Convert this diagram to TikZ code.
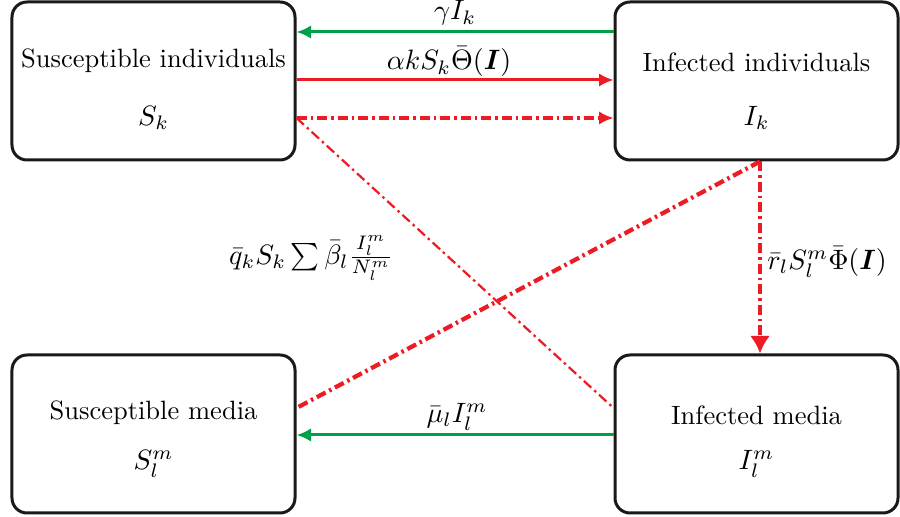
\RequirePackage{fix-cm}
\documentclass[tikz,border=0pt]{standalone}
\usepackage{amsmath}
\usetikzlibrary{arrows.meta,calc}
\definecolor{flowgreen}{RGB}{0,160,75}
\definecolor{flowred}{RGB}{237,28,36}
\begin{document}
\begin{tikzpicture}[x=0.4pt,y=-0.4pt,
  every node/.style={font=\fontsize{10.6}{12.7}\selectfont},
  compbox/.style={draw=black!90,line width=1.2pt,rounded corners=6pt,minimum width=113.2pt,minimum height=63.2pt,inner sep=0pt},
  lbl/.style={inner sep=1pt},
  mlbl/.style={inner sep=1pt,font=\fontsize{11.2}{13.4}\selectfont},
  greenflow/.style={draw=flowgreen,line width=1.2pt,-{Latex[length=5.8pt,width=5.4pt]}},
  redflow/.style={draw=flowred,line width=1.2pt,-{Latex[length=5.8pt,width=5.4pt]}},
  dd/.style={dash pattern=on 4pt off 1.6pt on 1pt off 1.6pt},
  ]
\useasboundingbox (0,0) rectangle (900,517);
\node[compbox] (tl) at (153.5,81) {};
\node[compbox] (tr) at (756.5,81) {};
\node[compbox] (bl) at (153.5,434) {};
\node[compbox] (br) at (756.5,434) {};
\node[lbl] (tlt) at (153.5,61) {Susceptible individuals};
\node[mlbl] (tlm) at (153.5,118) {$S_k$};
\node[lbl] (trt) at (756.5,62) {Infected individuals};
\node[mlbl] (trm) at (756.5,118) {$I_k$};
\node[lbl] (blt) at (153.5,413) {Susceptible media};
\node[mlbl] (blm) at (153.5,464) {$S_l^m$};
\node[lbl] (brt) at (756.5,415) {Infected media};
\node[mlbl] (brm) at (756.5,464) {$I_l^m$};
% flows
\draw[greenflow] (tr.west |- 0,32) -- (tl.east |- 0,32);
\node[mlbl] (l1) at (455,13) {$\gamma I_k$};
\draw[redflow] (tl.east |- 0,80) -- (tr.west |- 0,80);
\node[mlbl] (l2) at (449,62) {$\alpha k S_k\bar{\Theta}(\boldsymbol{I})$};
\draw[redflow,line width=1.4pt,dd] (tl.east |- 0,118) -- (tr.west |- 0,118);
\draw[draw=flowred,line width=0.9pt,dd] (tl.east |- 0,118) -- (br.west |- 0,408);
\coordinate (tp) at (tr.south -| 760,0);
\draw[draw=flowred,line width=1.7pt,dd] (tp) -- (bl.east |- 0,408);
\draw[draw=flowred,line width=1.7pt,dd,-{Latex[length=7pt,width=8pt]}] (tp) -- (br.north -| 760,0);
\node[mlbl] (l3) at (827,262) {$\bar{r}_l S_l^m\bar{\Phi}(\boldsymbol{I})$};
\node[mlbl] (l4) at (311,258) {$\bar{q}_k S_k\sum\bar{\beta}_l\frac{I_l^m}{N_l^m}$};
\draw[greenflow] (br.west |- 0,435) -- (bl.east |- 0,435);
\node[mlbl] (l5) at (457,417) {$\bar{\mu}_l I_l^m$};
\end{tikzpicture}
\end{document}
